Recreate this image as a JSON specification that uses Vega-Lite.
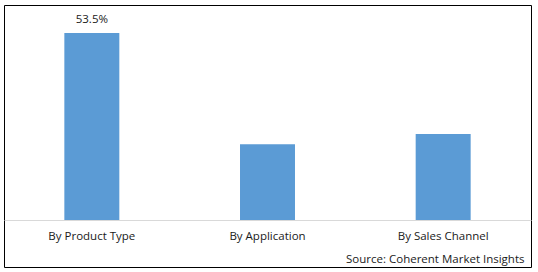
{
  "$schema": "https://vega.github.io/schema/vega-lite/v6.json",
  "autosize": "none",
  "width": 527,
  "height": 262,
  "padding": {"left": 4, "top": 5, "right": 7, "bottom": 5},
  "background": "white",
  "config": {
    "view": {"stroke": "#000000", "strokeWidth": 1},
    "font": "Open Sans"
  },
  "data": {
    "values": [
      {"segment": "By Product Type", "share": 53.5, "label": "53.5%"},
      {"segment": "By Application", "share": 21.7, "label": ""},
      {"segment": "By Sales Channel", "share": 24.6, "label": ""}
    ]
  },
  "encoding": {
    "x": {
      "field": "segment",
      "type": "nominal",
      "sort": null,
      "scale": {"paddingInner": 0.687, "paddingOuter": 0.3435},
      "axis": {
        "orient": "bottom",
        "offset": -47,
        "labelAngle": 0,
        "labelFontSize": 11.5,
        "labelColor": "#1a1a1a",
        "labelPadding": 10,
        "ticks": false,
        "domainColor": "#d9d9d9",
        "domainWidth": 1,
        "title": "Source: Coherent Market Insights",
        "titleFontSize": 11.5,
        "titleFontWeight": "normal",
        "titleColor": "#1a1a1a",
        "titleAnchor": "end",
        "titleAlign": "right",
        "titleBaseline": "alphabetic",
        "titleX": 520,
        "titleY": 42
      }
    },
    "y": {
      "field": "share",
      "type": "quantitative",
      "scale": {"domain": [-13.45, 61.51], "nice": false, "zero": false},
      "axis": null
    }
  },
  "layer": [
    {"mark": {"type": "bar", "color": "#5B9BD5"}, "encoding": {"y2": {"datum": 0}}},
    {
      "mark": {"type": "text", "baseline": "alphabetic", "dy": -10, "fontSize": 11.5, "color": "#1a1a1a"},
      "encoding": {"text": {"field": "label"}}
    }
  ]
}
